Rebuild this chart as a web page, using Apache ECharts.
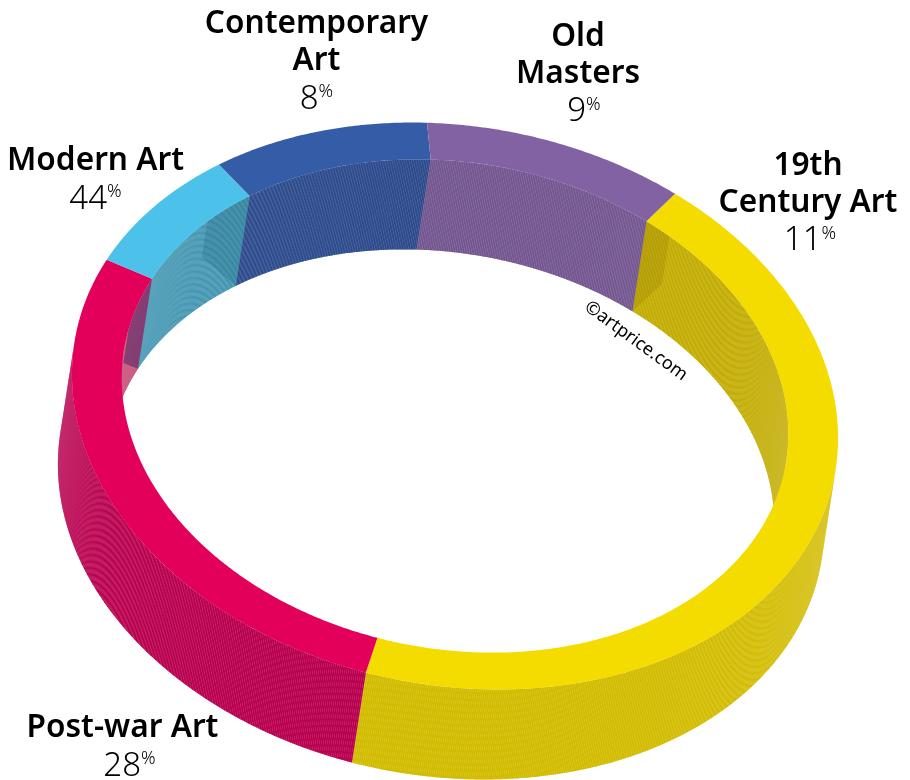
<!DOCTYPE html>
<html>
<head>
<meta charset="utf-8">
<style>
  html, body { margin: 0; padding: 0; background: #fff; }
  #chart { width: 910px; height: 780px; }
</style>
<script src="https://cdn.jsdelivr.net/npm/echarts@6/dist/echarts.min.js"></script>
</head>
<body>
<div id="chart"></div>
<script>
// slices clockwise from the top right, sizes as drawn in the picture
const sliceValues = [44, 28.1, 7.6, 9.4, 10.9];
const sliceColors = ['#f4dc00', '#e3005b', '#4cc1ea', '#355ca6', '#8362a3'];
const outerWallColors = ['#d2bc00', '#b9004f', '#4195b1', '#2c4a8c', '#73568f'];
const innerWallColors = ['#c2ac00', '#c4466f', '#4195b1', '#2c4a8c', '#73568f'];

// labels as printed, they go with the slice at the same position
const labelNames = [['19th', 'Century Art'], ['Post-war Art'], ['Modern Art'], ['Contemporary', 'Art'], ['Old', 'Masters']];
const labelValues = [11, 28, 44, 8, 9];
const labelCenters = [[808, 204], [122.5, 748], [95.5, 181], [316.5, 62.5], [578, 75]];
const labelValueShift = [2, 7, 0, 0, 6];

// ring projection
const cx = 455, cy = 406;
const a = 385.9, b = 279.6;
const tilt = 10.1 * Math.PI / 180;
const holeRatio = 0.87;
const drop = [-14, 90];
const startDeg = -62.3;
const wallSteps = 1203;

// soft shadow on the inner wall, measured from the start of a slice
const shadows = [
  { slice: 0, span: 5, depth: 0.53, color: 'rgba(110,90,0,0.16)' },
  { slice: 2, span: -13, depth: 0.37, color: 'rgba(60,30,100,0.5)' },
  { slice: 3, span: -10, depth: 0.39, color: 'rgba(0,60,90,0.16)' }
];

const total = sliceValues.reduce((s, v) => s + v, 0);
let acc = startDeg;
const sliceData = sliceValues.map((v, i) => {
  const from = acc;
  acc += v / total * 360;
  return [from, acc, i];
});

function ringPoint(deg, k, depth) {
  const t = deg * Math.PI / 180;
  const u = a * k * Math.cos(t), v = b * k * Math.sin(t);
  return [
    cx + u * Math.cos(tilt) - v * Math.sin(tilt) + drop[0] * depth,
    cy + u * Math.sin(tilt) + v * Math.cos(tilt) + drop[1] * depth
  ];
}

// which way the wall faces the viewer, sign of edge x drop
function facing(deg, k) {
  const p = ringPoint(deg - 0.05, k, 0), q = ringPoint(deg + 0.05, k, 0);
  return (q[0] - p[0]) * drop[1] - (q[1] - p[1]) * drop[0];
}

function wallChildren(from, to, k, color, front) {
  const step = 360 / wallSteps;
  const quads = [];
  let first = null, last = null;
  let d = Math.floor((from - startDeg) / step) * step + startDeg;
  for (; d < to; d += step) {
    const d0 = Math.max(d, from), d1 = Math.min(d + step, to);
    if (d1 <= d0) continue;
    if ((facing((d0 + d1) / 2, k) > 0) !== front) continue;
    if (first === null) first = d0;
    last = d1;
    quads.push({
      type: 'polygon',
      shape: { points: [ringPoint(d0, k, 0), ringPoint(d1, k, 0), ringPoint(d1, k, 1), ringPoint(d0, k, 1)] },
      style: { fill: color }
    });
  }
  if (first === null) return [];
  // base under the thin strips so their seams don't go all white
  const top = [], bottom = [];
  const n = Math.ceil(last - first) + 1;
  for (let i = 0; i <= n; i++) {
    const deg = first + (last - first) * i / n;
    top.push(ringPoint(deg, k, 0));
    bottom.unshift(ringPoint(deg, k, 1));
  }
  quads.unshift({ type: 'polygon', shape: { points: top.concat(bottom) }, style: { fill: color, opacity: 0.5 } });
  return quads;
}

function renderFace(params, api) {
  const from = api.value(0), to = api.value(1);
  const pts = [];
  const n = Math.ceil(to - from) * 2;
  for (let i = 0; i <= n; i++) pts.push(ringPoint(from + (to - from) * i / n, 1, 0));
  for (let i = n; i >= 0; i--) pts.push(ringPoint(from + (to - from) * i / n, holeRatio, 0));
  return { type: 'polygon', shape: { points: pts }, style: { fill: sliceColors[api.value(2)] } };
}

function renderOuter(params, api) {
  return { type: 'group', children: wallChildren(api.value(0), api.value(1), 1, outerWallColors[api.value(2)], false) };
}

function renderInner(params, api) {
  const from = api.value(0), to = api.value(1), idx = api.value(2);
  const children = wallChildren(from, to, holeRatio, innerWallColors[idx], true);
  shadows.filter((s) => s.slice === idx).forEach((s) => {
    const pts = [];
    for (let i = 0; i <= 10; i++) pts.push(ringPoint(from + s.span * i / 10, holeRatio, 0));
    for (let i = 0; i <= 10; i++) pts.push(ringPoint(from + s.span * (1 - i / 10), holeRatio, s.depth + (1 - s.depth) * i / 10));
    children.push({ type: 'polygon', shape: { points: pts }, style: { fill: s.color } });
  });
  return { type: 'group', children: children };
}

const labelGraphics = labelNames.map((name, i) => ({
  type: 'text',
  x: labelCenters[i][0],
  y: labelCenters[i][1],
  style: {
    text: name.map((n) => '{n|' + n + '}').join('\n') + '\n{v|' + labelValues[i] + '}{p|%}',
    x: 0,
    y: 0,
    align: 'center',
    verticalAlign: 'middle',
    fontFamily: 'Noto Sans',
    rich: {
      n: { fontFamily: 'Noto Sans', fontSize: 31.6, fontWeight: 600, lineHeight: 37, fill: '#000' },
      v: { fontFamily: 'Noto Sans', fontSize: 33, fontWeight: 300, lineHeight: 40, padding: [0, 0, 0, labelValueShift[i] * 2], fill: '#000' },
      p: { fontFamily: 'Noto Sans', fontSize: 18, fontWeight: 300, lineHeight: 40, padding: [0, 0, 15, 0], fill: '#000' }
    }
  }
}));

const chart = echarts.init(document.getElementById('chart'));
chart.setOption({
  backgroundColor: '#fff',
  animation: false,
  graphic: labelGraphics.concat([{
    type: 'text',
    x: 636,
    y: 341,
    rotation: -36 * Math.PI / 180,
    style: { text: '©artprice.com', align: 'center', verticalAlign: 'middle', fontFamily: 'Noto Sans', fontSize: 18, fill: '#000' }
  }]),
  series: [
    { type: 'custom', coordinateSystem: 'none', silent: true, renderItem: renderInner, data: sliceData },
    { type: 'custom', coordinateSystem: 'none', silent: true, renderItem: renderOuter, data: sliceData },
    { type: 'custom', coordinateSystem: 'none', silent: true, renderItem: renderFace, data: sliceData }
  ]
});
</script>
</body>
</html>
